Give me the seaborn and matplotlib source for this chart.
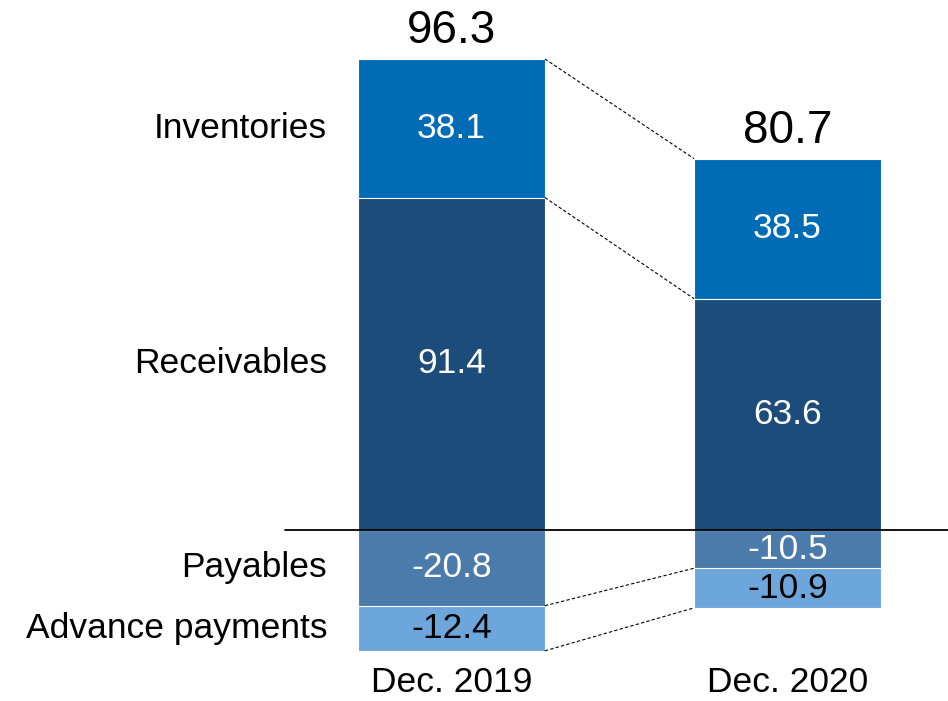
import numpy as np
import pandas as pd
import matplotlib.pyplot as plt
import seaborn as sns

periods = ['Dec. 2019', 'Dec. 2020']
inventories = [38.1, 38.5]
receivables = [91.4, 63.6]
payables = [-20.8, -10.5]
advance_payments = [-12.4, -10.9]
totals = [96.3, 80.7]
segment_names = ['Inventories', 'Receivables', 'Payables', 'Advance payments']

C_INV = '#006cb5'
C_REC = '#1b4c7a'
C_PAY = '#4a7baa'
C_ADV = '#6ca6da'

FS = 25.5      # labels
FS_TOT = 33    # totals above the bars

sns.set_theme(style='white')
plt.rcParams['font.family'] = ['Liberation Sans', 'DejaVu Sans']

df = pd.DataFrame({
    'period': periods,
    'inv': inventories,
    'rec': receivables,
    'pay': payables,
    'adv': advance_payments,
})
df['pos_top'] = df['rec'] + df['inv']
df['neg_bot'] = df['pay'] + df['adv']

fig = plt.figure(figsize=(9.48, 7.01), dpi=100)
ax = fig.add_axes([0, 36 / 701, 1, 665 / 701])

W = 0.556
# layered bars: the full stack first, then the inner segment painted over it
sns.barplot(data=df, x='period', y='pos_top', color=C_INV, width=W, saturation=1,
            edgecolor='white', linewidth=0.8, ax=ax)
sns.barplot(data=df, x='period', y='rec', color=C_REC, width=W, saturation=1,
            edgecolor='white', linewidth=0.8, ax=ax)
sns.barplot(data=df, x='period', y='neg_bot', color=C_ADV, width=W, saturation=1,
            edgecolor='white', linewidth=0.8, ax=ax)
sns.barplot(data=df, x='period', y='pay', color=C_PAY, width=W, saturation=1,
            edgecolor='white', linewidth=0.8, ax=ax)

ax.set_xlim(-1.344, 1.478)
ax.set_ylim(-37.1, 145.7)
ax.axhline(0, xmin=285 / 948, xmax=1, color='black', lw=1.3, zorder=5)

# connectors between the two bars
for a, b in [(df['pos_top'][0], df['pos_top'][1]), (df['rec'][0], df['rec'][1]),
             (df['pay'][0], df['pay'][1]), (df['neg_bot'][0], df['neg_bot'][1])]:
    ax.plot([W / 2, 1 - W / 2], [a, b], color='black', lw=0.8,
            ls=(0, (3, 2)), zorder=4)

# values inside segments
for i in range(2):
    ax.text(i, df['rec'][i] + df['inv'][i] / 2, f"{df['inv'][i]:.1f}",
            ha='center', va='center', color='white', fontsize=FS)
    ax.text(i, df['rec'][i] / 2, f"{df['rec'][i]:.1f}",
            ha='center', va='center', color='white', fontsize=FS)
    ax.text(i, df['pay'][i] / 2, f"{df['pay'][i]:.1f}",
            ha='center', va='center', color='white', fontsize=FS)
    ax.text(i, df['pay'][i] + df['adv'][i] / 2, f"{df['adv'][i]:.1f}",
            ha='center', va='center', color='black', fontsize=FS)
    ax.annotate(f"{totals[i]:.1f}", (i, df['pos_top'][i]), xytext=(0, 11.5),
                textcoords='offset points', ha='center', va='baseline',
                fontsize=FS_TOT, color='black')

# row names beside the first bar
label_y = [df['rec'][0] + df['inv'][0] / 2, df['rec'][0] / 2,
           df['pay'][0] / 2, df['pay'][0] + df['adv'][0] / 2]
for name, y in zip(segment_names, label_y):
    ax.text(-0.37, y, name, ha='right', va='center', fontsize=FS, color='black')

ax.set_xlabel('')
ax.set_ylabel('')
ax.set_yticks([])
ax.tick_params(axis='x', length=0, pad=1, labelsize=FS, colors='black')
sns.despine(ax=ax, left=True, bottom=True)

fig.savefig('out.png', dpi=100, facecolor='white')
